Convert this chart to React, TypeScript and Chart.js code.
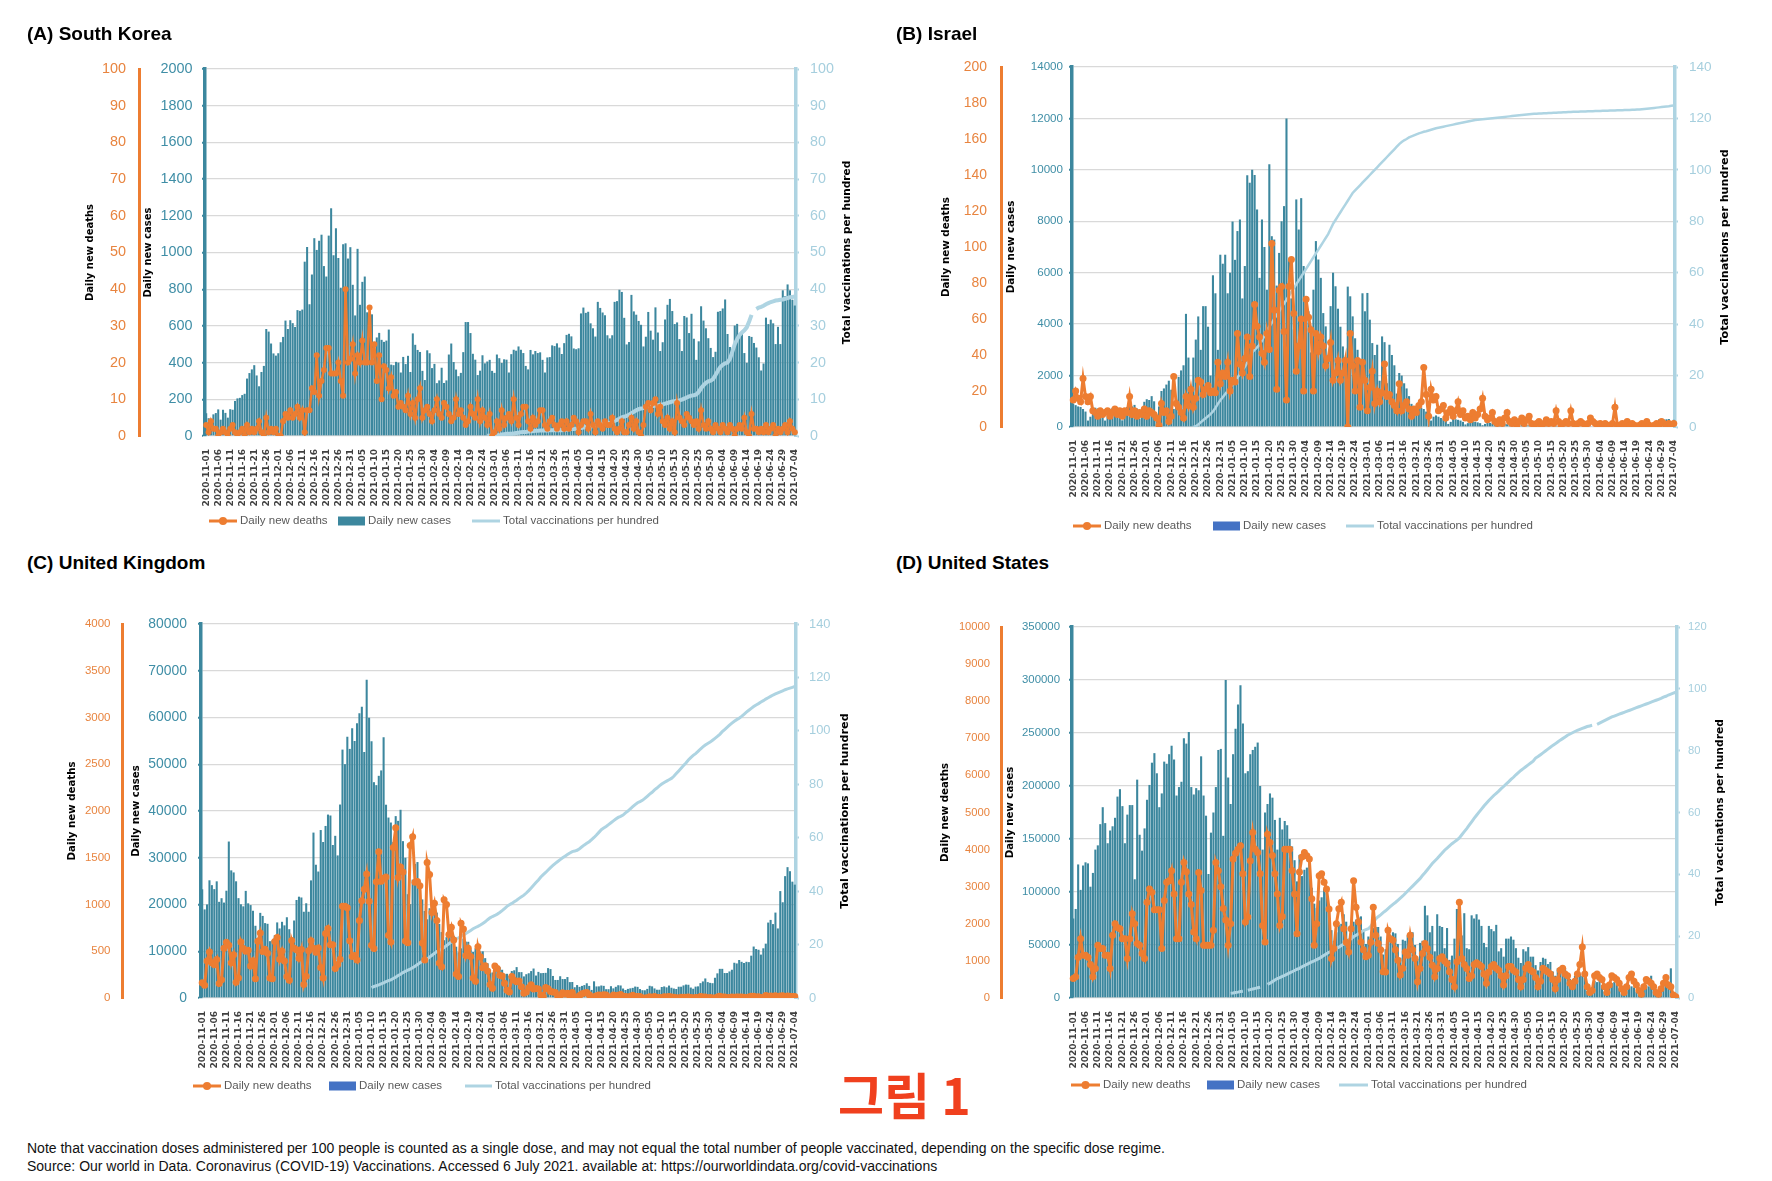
import { useEffect, useRef } from "react";
import { Chart, registerables } from "chart.js";
Chart.register(...registerables);

// ---------- categories ----------
const FIRST_DAY = Date.UTC(2020, 10, 1);
const DAY_COUNT = 246;
const dates: string[] = [];
for (let i = 0; i < DAY_COUNT; i++) dates.push(new Date(FIRST_DAY + i * 86400000).toISOString().slice(0, 10));

// ---------- (A) South Korea ----------
const casesKR = [
  124, 97, 75, 118, 125, 145, 89,
  143, 126, 100, 146, 143, 191, 205,
  208, 223, 230, 313, 343, 363, 386,
  330, 271, 349, 382, 583, 569, 504,
  450, 438, 451, 511, 540, 629, 583,
  631, 615, 594, 686, 682, 689, 950,
  1030, 718, 880, 1078, 1014, 1064, 1097,
  926, 869, 1092, 1241, 985, 1132, 970,
  808, 1045, 1050, 967, 1029, 824, 657,
  1020, 715, 840, 869, 674, 641, 663,
  451, 537, 562, 524, 513, 520, 580,
  389, 386, 404, 400, 346, 431, 392,
  437, 349, 559, 497, 469, 458, 355,
  305, 467, 451, 370, 393, 288, 303,
  372, 289, 303, 444, 504, 403, 362,
  326, 344, 457, 621, 621, 561, 448,
  416, 332, 356, 440, 396, 406, 415,
  355, 344, 444, 424, 398, 418, 416,
  346, 446, 470, 465, 488, 470, 452,
  382, 363, 469, 445, 463, 452, 456,
  415, 346, 428, 430, 494, 490, 505,
  482, 447, 506, 551, 557, 543, 477,
  473, 478, 668, 700, 671, 677, 614,
  587, 542, 731, 698, 673, 658, 549,
  532, 549, 731, 735, 797, 785, 644,
  499, 512, 769, 679, 661, 627, 606,
  488, 541, 676, 574, 525, 701, 564,
  463, 511, 635, 715, 747, 681, 610,
  619, 528, 463, 654, 646, 561, 666,
  530, 415, 516, 707, 629, 587, 533,
  480, 430, 459, 677, 681, 695, 744,
  556, 485, 454, 602, 611, 545, 565,
  452, 399, 545, 540, 507, 482, 429,
  357, 395, 645, 610, 634, 614, 501,
  595, 501, 794, 762, 826, 794, 743,
  711,
];
const deathsKR = [
  3, 1, 4, 2, 2, 0, 1,
  2, 1, 0, 2, 3, 1, 0,
  1, 2, 0, 3, 1, 2, 1,
  2, 4, 1, 0, 5, 1, 2,
  1, 2, 0, 0, 4, 6, 5,
  7, 5, 6, 8, 5, 7, 1,
  7, 7, 13, 12, 22, 11, 15,
  18, 24, 24, 17, 17, 17, 20,
  15, 11, 40, 20, 21, 25, 17,
  22, 20, 26, 20, 20, 35, 20,
  25, 15, 22, 10, 19, 18, 13,
  16, 11, 12, 8, 9, 8, 7,
  11, 6, 9, 5, 10, 13, 5,
  7, 8, 6, 4, 7, 10, 6,
  5, 9, 8, 6, 4, 5, 10,
  6, 7, 5, 3, 4, 8, 6,
  5, 10, 4, 7, 5, 3, 6,
  0, 1, 4, 2, 7, 3, 5,
  6, 4, 10, 5, 3, 6, 8,
  8, 4, 2, 5, 3, 4, 7,
  7, 3, 2, 4, 5, 3, 2,
  3, 4, 2, 4, 2, 3, 5,
  4, 1, 3, 4, 4, 2, 6,
  3, 1, 4, 3, 2, 4, 3,
  3, 5, 2, 1, 2, 4, 1,
  1, 3, 5, 2, 4, 1, 0,
  3, 8, 9, 7, 9, 10, 6,
  8, 4, 3, 5, 2, 4, 1,
  9, 5, 4, 3, 6, 5, 4,
  3, 4, 2, 7, 3, 2, 4,
  2, 1, 3, 2, 1, 3, 2,
  1, 3, 2, 0, 2, 3, 2,
  5, 1, 0, 6, 2, 2, 1,
  2, 1, 3, 1, 2, 3, 0,
  2, 1, 2, 3, 1, 4, 2,
  1,
];
const vaccKRStart = 117;
const vaccKR = [
  0.04, 0.09, 0.1, 0.1, 0.2, 0.3, 0.4, 0.5, 0.6, 0.6,
  0.6, 0.7, 0.8, 0.9, 1.0, 1.1, 1.1, 1.2, 1.3, 1.3,
  1.4, 1.4, 1.5, 1.5, 1.5, 1.5, 1.6, 1.6, 1.6, 1.6,
  1.6, 1.6, 1.7, 1.7, 1.8, 1.9, 1.9, 2.0, 2.1, 2.2,
  2.3, 2.5, 2.6, 2.6, 2.7, 2.8, 2.9, 3.1, 3.3, 3.4,
  3.5, 3.6, 3.8, 4.1, 4.4, 4.7, 5.1, 5.3, 5.5, 5.8,
  6.2, 6.6, 7.0, 7.3, 7.5, 7.6, 7.8, 8.0, 8.1, 8.2,
  8.3, 8.4, 8.5, 8.6, 8.8, 9.0, 9.2, 9.4, 9.5, 9.6,
  9.7, 9.9, 10.2, 10.5, 10.8, 11.0, 11.1, 11.3, 12.0, 13.0,
  13.8, 14.5, 14.9, 15.1, 15.5, 16.6, 17.8, 18.8, 19.4, 19.8,
  20.0, 21.0, 23.0, 25.0, 26.4, 27.5, 28.2, 28.8, 29.6, 31.2,
  33.0, null, 34.6, 35.0, 35.2, 35.5, 35.9, 36.2, 36.5, 36.7,
  36.9, 37.0, 37.1, 37.2, 37.4, 37.6, 37.8, 37.9, 38.0,
];

// ---------- (B) Israel ----------
const casesIL = [
  900, 850, 800, 780, 700, 600, 250,
  400, 700, 750, 720, 680, 600, 250,
  420, 680, 740, 720, 700, 620, 260,
  480, 780, 820, 800, 860, 720, 330,
  580, 980, 1080, 1050, 1200, 1000, 480,
  800, 1400, 1500, 1650, 1800, 1450, 700,
  1100, 1950, 2200, 2400, 4400, 2700, 1100,
  2700, 3400, 4300, 3000, 4700, 4700, 3900,
  2000, 5900, 5200, 3000, 6700, 6350, 6700,
  5200, 6000, 7990, 6500, 7620, 8070, 5000,
  6260, 9790, 9500, 10000, 9800, 8460, 5800,
  8070, 7000, 5340, 10220, 7420, 7290, 5500,
  6770, 8000, 8590, 12000, 6500, 5000, 3800,
  8850, 7680, 8900, 6260, 4840, 4500, 2900,
  5340, 7230, 6513, 5800, 4430, 3913, 2600,
  4700, 6000, 5473, 4600, 3900, 3133, 2400,
  5460, 5083, 4303, 3450, 3003, 2500, 5200,
  4500, 5213, 4173, 3263, 2800, 3200, 1800,
  3523, 3300, 1700, 3200, 2800, 2400, 1300,
  2100, 2000, 1700, 1500, 1200, 900, 500,
  800, 900, 750, 700, 600, 500, 250,
  400, 450, 400, 350, 300, 250, 120,
  200, 350, 300, 280, 250, 200, 100,
  150, 250, 220, 200, 180, 150, 70,
  120, 180, 160, 140, 130, 100, 50,
  80, 120, 110, 100, 90, 80, 40,
  60, 90, 80, 70, 65, 55, 30,
  50, 70, 60, 55, 50, 40, 20,
  35, 50, 45, 40, 35, 30, 15,
  25, 40, 35, 30, 28, 25, 10,
  20, 30, 25, 22, 20, 18, 8,
  15, 20, 18, 15, 14, 12, 6,
  12, 25, 30, 40, 60, 55, 30,
  50, 110, 120, 100, 110, 90, 50,
  150, 300, 320, 290, 300, 310, 180,
  280,
];
const deathsIL = [
  15, 20, 16, 14, 27, 17, 14,
  17, 9, 8, 6, 9, 7, 8,
  9, 6, 8, 10, 7, 9, 6,
  9, 8, 17, 7, 9, 6, 8,
  7, 10, 6, 9, 8, 7, 5,
  1, 13, 8, 9, 3, 6, 28,
  13, 11, 8, 5, 17, 12, 21,
  11, 16, 26, 25, 18, 21, 23,
  19, 20, 19, 36, 24, 30, 28,
  36, 20, 26, 25, 52, 35, 30,
  38, 50, 28, 45, 68, 56, 50,
  41, 36, 52, 43, 102, 65, 21,
  76, 78, 53, 15, 78, 93, 63,
  31, 45, 60, 20, 71, 61, 54,
  20, 52, 42, 50, 45, 34, 38,
  47, 26, 30, 37, 26, 30, 37,
  0, 52, 34, 20, 37, 11, 36,
  26, 9, 22, 31, 13, 20, 14,
  19, 35, 17, 18, 14, 12, 9,
  24, 9, 12, 14, 10, 6, 10,
  8, 12, 14, 33, 18, 6, 21,
  15, 17, 9, 10, 12, 5, 8,
  10, 6, 9, 14, 7, 9, 5,
  6, 4, 8, 5, 7, 10, 16,
  6, 4, 5, 8, 3, 2, 4,
  2, 5, 8, 3, 2, 4, 1,
  3, 5, 2, 4, 6, 2, 1,
  2, 3, 1, 2, 4, 2, 3,
  2, 9, 3, 1, 2, 3, 2,
  9, 2, 1, 2, 3, 2, 1,
  2, 5, 3, 2, 1, 2, 1,
  2, 1, 1, 2, 11, 1, 1,
  2, 1, 3, 1, 2, 1, 0,
  1, 2, 1, 3, 1, 0, 1,
  2, 1, 3, 2, 1, 2, 1,
  2,
];
const vaccILStart = 49;
const vaccIL = [
  0.0, 0.3, 1.0, 1.8, 2.6, 3.4, 4.2, 5.0, 6.0, 7.4,
  9.0, 10.4, 11.6, 12.8, 14.0, 15.2, 16.6, 18.0, 19.2, 20.6,
  22.0, 23.4, 25.0, 27.0, 29.0, 30.0, 31.0, 32.0, 33.5, 35.5,
  37.5, 39.0, 40.5, 42.0, 43.5, 45.0, 46.5, 48.0, 49.5, 51.0,
  52.5, 54.0, 55.5, 57.0, 58.5, 60.0, 61.5, 63.0, 64.5, 66.0,
  67.5, 69.0, 70.5, 72.0, 73.5, 75.0, 77.0, 79.0, 80.5, 82.0,
  83.5, 85.0, 86.5, 88.0, 89.5, 91.0, 92.0, 93.0, 94.0, 95.0,
  96.0, 97.0, 98.0, 99.0, 100.0, 101.0, 102.0, 103.0, 104.0, 105.0,
  106.0, 107.0, 108.0, 109.0, 110.0, 110.8, 111.5, 112.0, 112.6, 113.0,
  113.4, 113.8, 114.2, 114.5, 114.8, 115.0, 115.3, 115.6, 115.9, 116.2,
  116.4, 116.6, 116.8, 117.0, 117.2, 117.4, 117.6, 117.8, 118.0, 118.2,
  118.4, 118.6, 118.8, 119.0, 119.2, 119.4, 119.5, 119.6, 119.7, 119.8,
  119.9, 120.0, 120.1, 120.2, 120.3, 120.4, 120.5, 120.6, 120.7, 120.8,
  120.9, 121.0, 121.1, 121.2, 121.3, 121.4, 121.5, 121.6, 121.7, 121.8,
  121.8, 121.9, 121.9, 122.0, 122.0, 122.1, 122.1, 122.2, 122.2, 122.3,
  122.3, 122.4, 122.4, 122.5, 122.5, 122.6, 122.6, 122.6, 122.7, 122.7,
  122.7, 122.8, 122.8, 122.8, 122.9, 122.9, 122.9, 123.0, 123.0, 123.0,
  123.1, 123.1, 123.1, 123.2, 123.2, 123.2, 123.3, 123.3, 123.3, 123.4,
  123.4, 123.5, 123.5, 123.6, 123.7, 123.8, 123.9, 124.0, 124.1, 124.2,
  124.3, 124.4, 124.5, 124.6, 124.7, 124.9, 125.0,
];

// ---------- (C) United Kingdom ----------
const casesUK = [
  23254, 18950, 20018, 25177, 24141, 23287, 24957,
  20572, 21350, 20412, 22950, 33470, 27301, 26860,
  24962, 21363, 20051, 19609, 22915, 20252, 19875,
  18662, 15450, 11299, 18213, 17555, 16022, 15871,
  12155, 12330, 13430, 16170, 14879, 16298, 15539,
  17272, 14718, 12282, 16578, 20964, 21672, 21502,
  18447, 20263, 18450, 25161, 35383, 28507, 27052,
  35928, 33364, 36804, 39237, 39036, 32725, 34693,
  30501, 41385, 53135, 50023, 55892, 53285, 57725,
  54990, 58784, 60916, 62322, 52618, 68053, 59937,
  54940, 46165, 45533, 47525, 48682, 55761, 41346,
  38598, 37535, 33355, 38905, 37892, 40261, 33552,
  30004, 22195, 20089, 25308, 28680, 29079, 23275,
  21088, 18607, 16840, 19202, 20634, 19114, 18262,
  15845, 14104, 12364, 13013, 13494, 15144, 13308,
  10972, 9765, 10625, 12718, 12057, 12027, 10406,
  9834, 10641, 8489, 9938, 9985, 8523, 7434,
  6035, 5455, 6385, 5766, 6573, 6040, 5177,
  5177, 4712, 5766, 5926, 6609, 5534, 5534,
  4618, 5089, 5294, 5758, 6303, 4802, 5587,
  5312, 5342, 5379, 6397, 6187, 4715, 3862,
  3862, 4654, 4052, 4052, 4479, 3402, 3423,
  2297, 2762, 2379, 2589, 2763, 3150, 2589,
  1730, 3568, 2472, 2491, 2672, 2596, 1882,
  1882, 2524, 2063, 2396, 2729, 2678, 2026,
  1712, 1946, 2064, 2166, 2445, 2381, 1907,
  1671, 1649, 1946, 2613, 2490, 2047, 1770,
  1770, 2357, 2474, 2284, 2657, 2193, 2027,
  1926, 2412, 2412, 2696, 2874, 2829, 2235,
  1979, 2439, 2493, 3180, 3542, 4182, 3398,
  3240, 3165, 4330, 5274, 6238, 6238, 5341,
  5341, 5683, 6048, 7540, 7393, 8125, 7738,
  7490, 7742, 7673, 9055, 11007, 10476, 10321,
  9284, 10633, 11625, 16135, 16703, 15810, 18270,
  14876, 22868, 20479, 26068, 27989, 27125, 24885,
  24248,
];
const deathsUK = [
  162, 136, 397, 492, 378, 355, 413,
  156, 194, 532, 595, 563, 376, 462,
  168, 213, 598, 529, 501, 511, 341,
  398, 206, 608, 696, 498, 521, 479,
  215, 205, 603, 648, 414, 504, 397,
  231, 189, 616, 533, 516, 424, 519,
  144, 232, 506, 612, 532, 489, 534,
  326, 215, 691, 744, 570, 570, 316,
  357, 414, 981, 981, 964, 613, 445,
  454, 407, 830, 1041, 1162, 1325, 1035,
  563, 529, 1243, 1564, 1248, 1280, 1295,
  671, 599, 1610, 1820, 1290, 1401, 1348,
  610, 592, 1631, 1725, 1239, 1245, 1200,
  587, 406, 1449, 1322, 915, 1014, 828,
  373, 333, 1052, 1001, 678, 758, 621,
  258, 230, 799, 738, 454, 533, 445,
  215, 178, 548, 442, 323, 345, 290,
  144, 104, 343, 315, 242, 236, 158,
  82, 65, 231, 190, 175, 181, 121,
  52, 64, 110, 141, 95, 101, 96,
  33, 17, 112, 98, 70, 63, 58,
  19, 23, 56, 43, 51, 10, 58,
  10, 9, 26, 45, 53, 60, 34,
  7, 13, 23, 33, 30, 34, 32,
  10, 4, 33, 22, 29, 37, 19,
  17, 11, 17, 29, 14, 15, 15,
  1, 1, 4, 13, 8, 17, 6,
  5, 4, 14, 11, 17, 12, 7,
  4, 1, 9, 7, 9, 10, 5,
  0, 5, 6, 15, 10, 12, 0,
  6, 0, 1, 12, 18, 11, 12,
  4, 5, 11, 9, 10, 11, 10,
  8, 3, 10, 19, 18, 11, 14,
  6, 3, 27, 19, 21, 18, 23,
  11, 22, 23, 14, 22, 18, 15,
  15,
];
const vaccUKStart = 70;
const vaccUK = [
  3.9, 4.3, 4.6, 4.9, 5.3, 5.7, 6.1, 6.5, 6.8, 7.3,
  7.8, 8.4, 8.9, 9.5, 10.0, 10.4, 10.8, 11.3, 11.9, 12.5,
  13.2, 13.7, 14.1, 14.6, 15.3, 16.0, 16.7, 17.4, 17.8, 18.3,
  18.9, 19.6, 20.3, 21.0, 21.7, 22.2, 22.5, 23.0, 23.5, 24.1,
  24.7, 25.3, 25.9, 26.4, 26.8, 27.3, 27.9, 28.5, 29.3, 30.0,
  30.5, 30.9, 31.4, 32.0, 32.7, 33.5, 34.3, 34.9, 35.4, 36.0,
  36.6, 37.3, 37.9, 38.5, 39.3, 40.2, 41.2, 42.2, 43.2, 44.2,
  45.3, 46.2, 47.0, 47.9, 48.8, 49.6, 50.4, 51.1, 51.8, 52.5,
  53.1, 53.7, 54.3, 54.8, 55.0, 55.3, 55.9, 56.6, 57.3, 57.9,
  58.5, 59.3, 60.1, 61.0, 62.0, 63.0, 63.6, 64.2, 64.9, 65.6,
  66.3, 67.0, 67.6, 68.0, 68.5, 69.3, 70.0, 70.8, 71.6, 72.4,
  73.1, 73.5, 74.0, 74.7, 75.5, 76.3, 77.0, 77.9, 78.6, 79.4,
  80.1, 80.7, 81.2, 81.7, 82.2, 83.0, 84.0, 85.0, 86.0, 87.0,
  88.0, 89.1, 90.0, 90.8, 91.5, 92.3, 93.2, 94.0, 94.7, 95.3,
  95.8, 96.5, 97.2, 97.9, 98.7, 99.7, 100.5, 101.3, 102.1, 102.9,
  103.6, 104.2, 104.7, 105.4, 106.2, 107.0, 107.7, 108.4, 109.1, 109.7,
  110.2, 110.8, 111.3, 111.9, 112.4, 112.9, 113.4, 113.8, 114.2, 114.6,
  115.0, 115.4, 115.7, 116.0, 116.3, 116.6,
];

// ---------- (D) United States ----------
const casesUS = [
  75000, 84000, 126000, 102000, 125000, 128000, 127000,
  105000, 118000, 140000, 144000, 164000, 180000, 165000,
  146000, 158000, 162000, 170000, 190000, 197000, 181000,
  146000, 173000, 182000, 182000, 112000, 206000, 154000,
  139000, 160000, 187000, 201000, 222000, 231000, 212000,
  180000, 193000, 223000, 221000, 230000, 238000, 225000,
  191000, 199000, 204000, 245000, 240000, 251000, 199000,
  192000, 198000, 196000, 228000, 191000, 172000, 117000,
  156000, 175000, 199000, 234000, 235000, 153000, 300000,
  208000, 183000, 230000, 254000, 277000, 295000, 259000,
  212000, 214000, 230000, 234000, 237000, 241000, 200000,
  140000, 175000, 183000, 193000, 189000, 168000, 140000,
  170000, 159000, 167000, 163000, 150000, 143000, 130000,
  110000, 135000, 115000, 121000, 123000, 134000, 104000,
  89000, 85000, 92000, 95000, 103000, 99000, 82000,
  64000, 54000, 62000, 69000, 70000, 79000, 72000,
  56000, 55000, 72000, 74000, 76000, 77000, 63000,
  51000, 58000, 57000, 66000, 67000, 67000, 58000,
  41000, 46000, 57000, 58000, 62000, 61000, 51000,
  38000, 55000, 54000, 59000, 60000, 62000, 50000,
  37000, 52000, 54000, 87000, 78000, 62000, 68000,
  44000, 79000, 68000, 67000, 47000, 66000, 36000,
  40000, 56000, 84000, 83000, 59000, 80000, 47000,
  46000, 78000, 75000, 79000, 74000, 68000, 52000,
  48000, 68000, 65000, 63000, 69000, 44000, 47000,
  39000, 56000, 56000, 58000, 55000, 47000, 38000,
  33000, 46000, 44000, 48000, 39000, 39000, 31000,
  26000, 34000, 38000, 37000, 32000, 34000, 25000,
  21000, 28000, 27000, 28000, 28000, 22000, 18000,
  14000, 21000, 23000, 23000, 21000, 19000, 7000,
  5000, 8000, 16000, 15000, 17000, 12000, 6000,
  5000, 15000, 14000, 15000, 13000, 9000, 4000,
  4000, 11000, 12000, 11000, 10000, 6000, 3000,
  3000, 11000, 12000, 11000, 21000, 9000, 3000,
  3000, 11000, 12000, 14000, 12000, 28000, 2000,
  1000,
];
const deathsUS = [
  527, 572, 1100, 1600, 1154, 1154, 1100,
  900, 572, 795, 1421, 1331, 1331, 1154,
  1154, 795, 1689, 2002, 1900, 1868, 1600,
  1600, 1064, 1600, 2270, 2000, 1466, 1421,
  1200, 1064, 2582, 2940, 2850, 2380, 2380,
  2380, 1331, 2627, 3118, 3163, 3431, 2800,
  1600, 1600, 3118, 3655, 3400, 2800, 2519,
  1779, 1600, 3386, 2896, 1421, 1421, 1421,
  1421, 1823, 3655, 3431, 3000, 2413, 2100,
  1421, 2000, 3744, 3900, 4012, 4101, 3351,
  2047, 2180, 3700, 4459, 4012, 3923, 3351,
  1957, 1510, 4414, 4191, 3842, 3351, 2800,
  1957, 2200, 4012, 4012, 4012, 3440, 2800,
  1734, 3397, 3800, 3923, 3833, 3744, 2672,
  1421, 2000, 3297, 3351, 3118, 2940, 2400,
  1064, 1331, 2000, 2404, 2582, 1868, 1500,
  1242, 1868, 3163, 2449, 2047, 1510, 1300,
  1109, 1154, 1500, 2449, 1689, 1466, 1300,
  706, 700, 1824, 1600, 1555, 1300, 1020,
  617, 800, 1243, 1154, 1689, 1300, 1064,
  440, 795, 1200, 1466, 1331, 1100, 884,
  572, 795, 1064, 1109, 1000, 930, 706,
  500, 303, 975, 2582, 1064, 900, 795,
  527, 600, 900, 950, 900, 850, 650,
  400, 700, 850, 900, 800, 750, 600,
  350, 600, 850, 850, 750, 700, 500,
  300, 500, 800, 900, 750, 700, 550,
  300, 450, 800, 750, 700, 650, 500,
  250, 500, 750, 800, 650, 600, 400,
  300, 450, 650, 900, 1376, 650, 300,
  150, 200, 600, 650, 550, 500, 300,
  150, 350, 600, 550, 500, 400, 250,
  150, 300, 550, 650, 450, 350, 200,
  100, 300, 500, 450, 400, 300, 150,
  100, 250, 400, 550, 350, 300, 80,
  35,
];
const vaccUSStart = 64;
const vaccUS = [
  1.5, 1.6, 1.8, 1.9, 2.1, 2.2, null,
  2.5, 2.7, 2.9, 3.1, 3.3, 3.5, null, null,
  4.4, 4.8, 5.3, 5.8, 6.3, 6.6, 7.0, 7.3, 7.7, 8.1,
  8.5, 8.9, 9.3, 9.6, 10.1, 10.5, 10.9, 11.3, 11.7, 12.0,
  12.4, 12.8, 13.3, 13.8, 14.3, 14.8, 15.2, 15.6, 16.0, 16.4,
  17.0, 17.5, 18.0, 18.5, 19.2, 19.8, 20.3, 20.8, 21.3, 21.8,
  22.1, 22.4, 23.2, 24.4, 25.6, 26.3, 26.9, 27.6, 28.2, 28.9,
  29.6, 30.3, 30.9, 31.6, 32.3, 33.0, 33.8, 34.6, 35.4, 36.2,
  37.0, 37.8, 38.6, 39.6, 40.5, 41.5, 42.5, 43.5, 44.3, 45.1,
  46.0, 46.9, 47.8, 48.5, 49.2, 49.9, 50.5, 51.1, 51.8, 52.8,
  53.8, 54.8, 55.9, 57.0, 58.1, 59.1, 60.1, 61.1, 62.1, 63.0,
  63.9, 64.7, 65.5, 66.2, 66.9, 67.7, 68.4, 69.2, 69.9, 70.7,
  71.4, 72.2, 72.9, 73.6, 74.2, 74.8, 75.4, 76.0, 76.6, 77.6,
  78.1, 78.7, 79.3, 79.9, 80.5, 81.1, 81.7, 82.2, 82.8, 83.4,
  83.9, 84.4, 85.0, 85.4, 85.8, 86.2, 86.6, 86.9, 87.2, 87.5,
  87.8, 88.0, 88.2, null, 88.5, 88.9, 89.3, 89.7, 90.1, 90.5,
  90.9, 91.2, 91.5, 91.8, 92.1, 92.4, 92.7, 93.0, 93.3, 93.6,
  93.9, 94.2, 94.5, 94.8, 95.1, 95.4, 95.7, 96.0, 96.3, 96.6,
  96.9, 97.3, 97.6, 98.0, 98.3, 98.6, 98.9,
];

// ---------- styling ----------
const ORANGE = "#ED7D31";
const ORANGE_TXT = "#E8843F";
const TEAL = "#3C879E";
const TEAL_TXT = "#3F8EA6";
const LIGHTBLUE = "#AED4E2";
const LIGHTBLUE_TXT = "#A6CFDE";
const LEGEND_BLUE = "#4472C4";
const SANS = '"Liberation Sans", Arial, sans-serif';

type Rect = { x: number; y: number; w: number; h: number };
interface PanelCfg {
  key: string;
  deaths: number[];
  cases: number[];
  vacc: (number | null)[];
  vaccStart: number;
  canvas: Rect;
  plot: { l: number; t: number; r: number; b: number };
  orangeX: number;
  titleX: { deaths: number; cases: number; vacc: number };
  titleSize: { left: number; right: number };
  tickSize: { deaths: number; cases: number; vacc: number };
  tickPad: { deaths: number; cases: number; vacc: number };
  dMax: number; dStep: number; cMax: number; cStep: number; vMax: number; vStep: number;
  legend: { y: number; deaths: number[]; cases: number[]; vacc: number[]; font: number };
  legendBox: string;
  pointR: number; deathLine: number; vaccLine: number;
}

const panels: PanelCfg[] = [
  {
    key: "A", deaths: deathsKR, cases: casesKR, vacc: vaccKR, vaccStart: vaccKRStart,
    canvas: { x: 20, y: 40, w: 880, h: 510 }, plot: { l: 205, t: 69, r: 796, b: 436 }, orangeX: 139,
    titleX: { deaths: 90, cases: 148, vacc: 847 }, titleSize: { left: 10, right: 10.5 },
    tickSize: { deaths: 14.4, cases: 14.4, vacc: 14.3 }, tickPad: { deaths: 13, cases: 9.5, vacc: 11 },
    dMax: 100, dStep: 10, cMax: 2000, cStep: 200, vMax: 100, vStep: 10,
    legend: { y: 521, deaths: [209, 237], cases: [338, 365], vacc: [472, 500], font: 11.5 },
    legendBox: TEAL, pointR: 3, deathLine: 2.5, vaccLine: 4,
  },
  {
    key: "B", deaths: deathsIL, cases: casesIL, vacc: vaccIL, vaccStart: vaccILStart,
    canvas: { x: 890, y: 40, w: 870, h: 510 }, plot: { l: 1072, t: 67, r: 1675, b: 427 }, orangeX: 1001,
    titleX: { deaths: 946, cases: 1011, vacc: 1725 }, titleSize: { left: 10.3, right: 11.2 },
    tickSize: { deaths: 13.9, cases: 11.6, vacc: 13.6 }, tickPad: { deaths: 14, cases: 6, vacc: 11 },
    dMax: 200, dStep: 20, cMax: 14000, cStep: 2000, vMax: 140, vStep: 20,
    legend: { y: 526, deaths: [1073, 1101], cases: [1213, 1240], vacc: [1346, 1374], font: 11.5 },
    legendBox: LEGEND_BLUE, pointR: 3.5, deathLine: 3, vaccLine: 2.5,
  },
  {
    key: "C", deaths: deathsUK, cases: casesUK, vacc: vaccUK, vaccStart: vaccUKStart,
    canvas: { x: 20, y: 595, w: 880, h: 510 }, plot: { l: 201, t: 624, r: 796, b: 998 }, orangeX: 122,
    titleX: { deaths: 72, cases: 136, vacc: 845 }, titleSize: { left: 10.2, right: 11.2 },
    tickSize: { deaths: 11.5, cases: 13.9, vacc: 12.9 }, tickPad: { deaths: 11.5, cases: 11, vacc: 10 },
    dMax: 4000, dStep: 500, cMax: 80000, cStep: 10000, vMax: 140, vStep: 20,
    legend: { y: 1086, deaths: [193, 221], cases: [329, 356], vacc: [465, 492], font: 11.5 },
    legendBox: LEGEND_BLUE, pointR: 3.5, deathLine: 3, vaccLine: 3,
  },
  {
    key: "D", deaths: deathsUS, cases: casesUS, vacc: vaccUS, vaccStart: vaccUSStart,
    canvas: { x: 890, y: 595, w: 870, h: 510 }, plot: { l: 1072, t: 627, r: 1677, b: 998 }, orangeX: 1001,
    titleX: { deaths: 945, cases: 1010, vacc: 1720 }, titleSize: { left: 10.2, right: 10.7 },
    tickSize: { deaths: 11.2, cases: 11.4, vacc: 11.2 }, tickPad: { deaths: 11, cases: 9, vacc: 8 },
    dMax: 10000, dStep: 1000, cMax: 350000, cStep: 50000, vMax: 120, vStep: 20,
    legend: { y: 1085, deaths: [1071, 1100], cases: [1207, 1234], vacc: [1339, 1368], font: 11.5 },
    legendBox: LEGEND_BLUE, pointR: 3.5, deathLine: 3, vaccLine: 3,
  },
];

const panelTitles = [
  { text: "(A) South Korea", x: 27, y: 24 },
  { text: "(B) Israel", x: 896, y: 24 },
  { text: "(C) United Kingdom", x: 27, y: 553 },
  { text: "(D) United States", x: 896, y: 553 },
];
const noteLines = [
  "Note that vaccination doses administered per 100 people is counted as a single dose, and may not equal the total number of people vaccinated, depending on the specific dose regime.",
  "Source: Our world in Data. Coronavirus (COVID-19) Vaccinations. Accessed 6 July 2021. available at: https://ourworldindata.org/covid-vaccinations",
];

function padSeries(start: number, vals: (number | null)[]) {
  const out: (number | null)[] = [];
  for (let i = 0; i < start; i++) out.push(null);
  return out.concat(vals);
}

function makeOverlay(p: PanelCfg) {
  return {
    id: "overlay" + p.key,
    afterDraw(chart: any) {
      const ctx = chart.ctx as CanvasRenderingContext2D;
      const ca = chart.chartArea;
      const ox = p.canvas.x, oy = p.canvas.y;
      const midY = (ca.top + ca.bottom) / 2;
      ctx.save();
      ctx.fillStyle = "#000";
      ctx.textAlign = "center";
      ctx.textBaseline = "middle";
      const drawV = (text: string, x: number, size: number) => {
        ctx.save();
        ctx.font = `bold ${size}px "DejaVu Sans", Verdana, sans-serif`;
        ctx.translate(x - ox, midY);
        ctx.rotate(-Math.PI / 2);
        ctx.fillText(text, 0, 0);
        ctx.restore();
      };
      drawV("Daily new deaths", p.titleX.deaths, p.titleSize.left);
      drawV("Daily new cases", p.titleX.cases, p.titleSize.left);
      drawV("Total vaccinations per hundred", p.titleX.vacc, p.titleSize.right);

      const L = p.legend;
      const ly = L.y - oy;
      ctx.font = `${L.font}px ${SANS}`;
      ctx.textAlign = "left";
      ctx.lineCap = "butt";
      // deaths
      ctx.strokeStyle = ORANGE;
      ctx.lineWidth = 3;
      ctx.beginPath();
      ctx.moveTo(L.deaths[0] - ox, ly);
      ctx.lineTo(L.deaths[1] - ox, ly);
      ctx.stroke();
      ctx.fillStyle = ORANGE;
      ctx.beginPath();
      ctx.arc((L.deaths[0] + L.deaths[1]) / 2 - ox, ly, 4, 0, Math.PI * 2);
      ctx.fill();
      ctx.fillStyle = "#595959";
      ctx.fillText("Daily new deaths", L.deaths[1] - ox + 3, ly);
      // cases
      ctx.fillStyle = p.legendBox;
      ctx.fillRect(L.cases[0] - ox, ly - 4.5, L.cases[1] - L.cases[0], 9);
      ctx.fillStyle = "#595959";
      ctx.fillText("Daily new cases", L.cases[1] - ox + 3, ly);
      // vacc
      ctx.strokeStyle = LIGHTBLUE;
      ctx.lineWidth = 3;
      ctx.beginPath();
      ctx.moveTo(L.vacc[0] - ox, ly);
      ctx.lineTo(L.vacc[1] - ox, ly);
      ctx.stroke();
      ctx.fillStyle = "#595959";
      ctx.fillText("Total vaccinations per hundred", L.vacc[1] - ox + 3, ly);
      ctx.restore();
    },
  };
}

function Panel({ p }: { p: PanelCfg }) {
  const ref = useRef<HTMLCanvasElement>(null);
  useEffect(() => {
    const canvas = ref.current;
    if (!canvas) return;
    const W1 = p.orangeX - p.canvas.x;
    const W2 = p.plot.l - p.orangeX;
    const W3 = p.canvas.x + p.canvas.w - p.plot.r;
    const XH = 80;
    const padTop = p.plot.t - p.canvas.y;
    const padBottom = p.canvas.y + p.canvas.h - p.plot.b - XH;
    const num = (v: any) => String(v);
    const chart = new Chart(canvas, {
      type: "bar",
      data: {
        labels: dates,
        datasets: [
          {
            type: "line", label: "Daily new deaths", data: p.deaths, yAxisID: "yDeaths",
            borderColor: ORANGE, backgroundColor: ORANGE, borderWidth: p.deathLine,
            pointRadius: p.pointR, pointBackgroundColor: ORANGE, pointBorderWidth: 0,
            pointHoverRadius: 0, tension: 0, order: 0,
          } as any,
          {
            type: "line", label: "Total vaccinations per hundred", data: padSeries(p.vaccStart, p.vacc),
            yAxisID: "yVacc", borderColor: LIGHTBLUE, backgroundColor: LIGHTBLUE,
            borderWidth: p.vaccLine, pointRadius: 0, spanGaps: false, tension: 0, order: 1,
          } as any,
          {
            type: "bar", label: "Daily new cases", data: p.cases, yAxisID: "yCases",
            backgroundColor: TEAL, borderWidth: 0, barPercentage: 0.85, categoryPercentage: 1, order: 2,
          } as any,
        ],
      },
      options: {
        responsive: false,
        animation: false,
        events: [],
        layout: { padding: { left: 0, right: 0, top: padTop, bottom: padBottom } },
        plugins: { legend: { display: false }, tooltip: { enabled: false }, title: { display: false } },
        scales: {
          x: {
            type: "category",
            offset: true,
            grid: { display: false },
            border: { display: false },
            ticks: {
              autoSkip: false, maxRotation: 90, minRotation: 90, padding: 5,
              color: "#404040",
              font: { family: '"DejaVu Sans", Verdana, sans-serif', size: 9, weight: "bold" },
              callback: (_v: any, i: number) => (i % 5 === 0 ? dates[i] : ""),
            },
            afterFit: (s: any) => { s.height = XH; },
          },
          yDeaths: {
            position: "left", weight: 2, min: 0, max: p.dMax,
            grid: { display: false, drawTicks: false },
            border: { display: true, color: ORANGE, width: 3 },
            ticks: { stepSize: p.dStep, color: ORANGE_TXT, padding: p.tickPad.deaths, font: { family: SANS, size: p.tickSize.deaths }, callback: num },
            afterFit: (s: any) => { s.width = W1; },
          },
          yCases: {
            position: "left", weight: 1, min: 0, max: p.cMax,
            grid: { color: "#D9D9D9", lineWidth: 1.3, drawTicks: true, tickLength: 3, tickColor: TEAL, tickWidth: 2 },
            border: { display: true, color: TEAL, width: 3.5 },
            ticks: { stepSize: p.cStep, color: TEAL_TXT, padding: p.tickPad.cases, font: { family: SANS, size: p.tickSize.cases }, callback: num },
            afterFit: (s: any) => { s.width = W2; },
          },
          yVacc: {
            position: "right", min: 0, max: p.vMax,
            grid: { display: true, drawOnChartArea: false, drawTicks: true, tickLength: 3, tickColor: LIGHTBLUE, tickWidth: 2, color: LIGHTBLUE },
            border: { display: true, color: LIGHTBLUE, width: 3.5 },
            ticks: { stepSize: p.vStep, color: LIGHTBLUE_TXT, padding: p.tickPad.vacc, font: { family: SANS, size: p.tickSize.vacc }, callback: num },
            afterFit: (s: any) => { s.width = W3; },
          },
        } as any,
      },
      plugins: [makeOverlay(p)],
    });
    return () => chart.destroy();
  }, [p]);
  return (
    <canvas
      ref={ref}
      width={p.canvas.w}
      height={p.canvas.h}
      style={{ position: "absolute", left: p.canvas.x, top: p.canvas.y, width: p.canvas.w, height: p.canvas.h }}
    />
  );
}

export default function App() {
  return (
    <div style={{ position: "absolute", left: 0, top: 0, width: 1772, height: 1181, background: "#fff", overflow: "hidden" }}>
      {panels.map((p) => (
        <Panel key={p.key} p={p} />
      ))}
      {panelTitles.map((t) => (
        <div
          key={t.text}
          style={{ position: "absolute", left: t.x, top: t.y, fontFamily: SANS, fontWeight: "bold", fontSize: 19, lineHeight: "19px", whiteSpace: "nowrap", color: "#000" }}
        >
          {t.text}
        </div>
      ))}
      <div
        style={{ position: "absolute", left: 838, top: 1068, fontFamily: '"Noto Sans CJK KR", sans-serif', fontWeight: "bold", fontSize: 50, lineHeight: "50px", color: "#F0401E", whiteSpace: "nowrap" }}
      >
        그림 1
      </div>
      {noteLines.map((t, i) => (
        <div
          key={i}
          style={{ position: "absolute", left: 27, top: 1140 + i * 18, fontFamily: SANS, fontSize: 14, lineHeight: "16px", whiteSpace: "nowrap", color: "#111" }}
        >
          {t}
        </div>
      ))}
    </div>
  );
}
